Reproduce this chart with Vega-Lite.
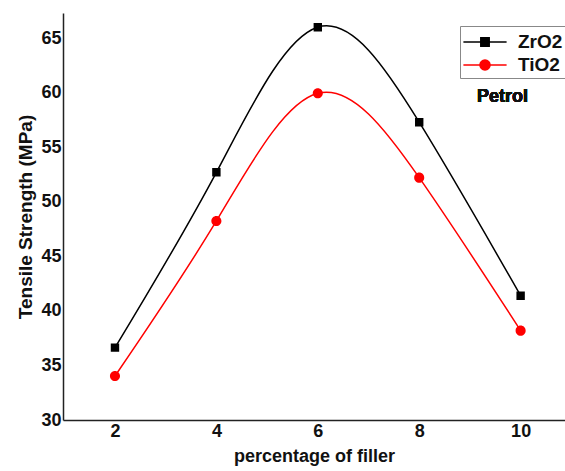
{
  "$schema": "https://vega.github.io/schema/vega-lite/v6.json",
  "width": 502,
  "height": 407,
  "autosize": "none",
  "padding": {"left": 63, "top": 13, "right": 0, "bottom": 51},
  "background": "white",
  "config": {
    "font": "Liberation Sans",
    "view": {"stroke": null},
    "axis": {
      "grid": false,
      "ticks": false,
      "domainColor": "#222",
      "domainWidth": 1.5,
      "labelFont": "Liberation Sans",
      "labelFontWeight": "bold",
      "labelFontSize": 18,
      "labelColor": "#111",
      "titleFont": "Liberation Sans",
      "titleFontWeight": "bold",
      "titleFontSize": 18,
      "titleColor": "#111"
    }
  },
  "data": {
    "values": [
      {"filler": 2, "strength": 36.63, "material": "ZrO2"},
      {"filler": 4, "strength": 52.7, "material": "ZrO2"},
      {"filler": 6, "strength": 66.0, "material": "ZrO2"},
      {"filler": 8, "strength": 57.29, "material": "ZrO2"},
      {"filler": 10, "strength": 41.39, "material": "ZrO2"},
      {"filler": 2, "strength": 34.03, "material": "TiO2"},
      {"filler": 4, "strength": 48.24, "material": "TiO2"},
      {"filler": 6, "strength": 59.94, "material": "TiO2"},
      {"filler": 8, "strength": 52.21, "material": "TiO2"},
      {"filler": 10, "strength": 38.19, "material": "TiO2"}
    ]
  },
  "resolve": {"legend": {"color": "independent", "shape": "independent", "stroke": "independent"}},
  "encoding": {
    "x": {
      "field": "filler",
      "type": "quantitative",
      "scale": {"domain": [0.975, 10.875], "nice": false, "zero": false},
      "axis": {"values": [2, 4, 6, 8, 10], "title": "percentage of filler", "labelPadding": 2, "titlePadding": 7, "labelFlush": false}
    },
    "y": {
      "field": "strength",
      "type": "quantitative",
      "scale": {"domain": [30, 67.3], "nice": false, "zero": false},
      "axis": {"values": [30, 35, 40, 45, 50, 55, 60, 65], "title": "Tensile Strength (MPa)", "titleFontSize": 19, "labelPadding": 2, "titlePadding": 5, "labelFlush": false}
    }
  },
  "layer": [
    {
      "mark": {"type": "line", "interpolate": "natural", "strokeWidth": 1.5},
      "encoding": {
        "color": {
          "field": "material",
          "type": "nominal",
          "scale": {"domain": ["ZrO2", "TiO2"], "range": ["black", "red"]},
          "legend": null
        }
      }
    },
    {
      "mark": {"type": "point", "filled": true, "opacity": 1, "size": 576},
      "encoding": {
        "shape": {
          "field": "material",
          "type": "nominal",
          "scale": {"domain": ["ZrO2", "TiO2"], "range": ["M-1.8,0H1.8M-0.35,-0.35H0.35V0.35H-0.35Z", "M-1.8,0H1.8M0.42,0A0.42,0.42 0 1 1 -0.42,0A0.42,0.42 0 1 1 0.42,0Z"]},
          "legend": null
        },
        "stroke": {
          "field": "material",
          "type": "nominal",
          "scale": {"domain": ["ZrO2", "TiO2"], "range": ["black", "red"]},
          "legend": null
        },
        "strokeWidth": {"value": 0},
        "color": {
          "field": "material",
          "type": "nominal",
          "scale": {"domain": ["ZrO2", "TiO2"], "range": ["black", "red"]},
          "legend": {
            "title": null,
            "orient": "none",
            "legendX": 397,
            "legendY": 13,
            "strokeColor": "#888",
            "fillColor": "white",
            "padding": 3,
            "labelFont": "Liberation Sans",
            "labelFontWeight": "bold",
            "labelFontSize": 19,
            "labelColor": "#111",
            "labelOffset": 20,
            "symbolOffset": 9,
            "rowPadding": 0,
            "symbolSize": 576,
            "symbolStrokeWidth": 1.5
          }
        }
      }
    },
    {
      "mark": {"type": "text", "font": "Liberation Sans", "fontWeight": "bold", "fontSize": 18, "fill": "#111"},
      "encoding": {
        "x": {"datum": 9.64},
        "y": {"datum": 59.6},
        "text": {"value": "Petrol"}
      }
    }
  ]
}
